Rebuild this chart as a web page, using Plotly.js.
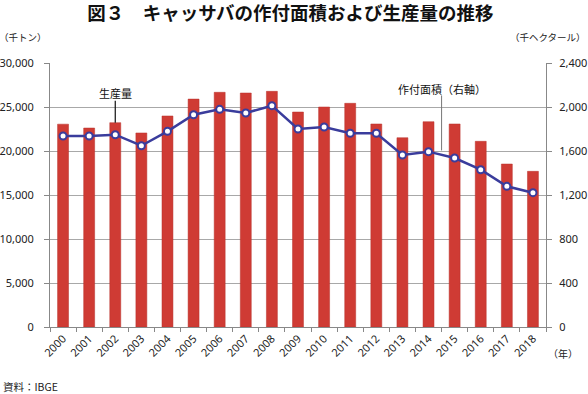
<!DOCTYPE html>
<html><head><meta charset="utf-8">
<script src="https://cdn.plot.ly/plotly-3.0.1.min.js"></script>
<style>html,body{margin:0;padding:0;background:#fff}#chart{width:588px;height:394px}</style>
</head><body><div id="chart"></div>
<script>
const years = ['2000','2001','2002','2003','2004','2005','2006','2007','2008','2009','2010','2011','2012','2013','2014','2015','2016','2017','2018'];
const production = [23050,22610,23220,22050,23980,25900,26670,26590,26780,24430,25000,25420,23070,21510,23330,23070,21100,18520,17690];
const area = [1736,1736,1748,1648,1779,1930,1979,1945,2012,1800,1818,1761,1761,1564,1594,1536,1430,1279,1221];
const leftTicks = [0,5000,10000,15000,20000,25000,30000];
const rightTicks = [0,400,800,1200,1600,2000,2400];

const font = 'Noto Sans, Noto Sans CJK JP, sans-serif';
const jp = 'Noto Sans CJK JP, sans-serif';

const traces = [
  {type:'bar', x:years, y:production, name:'生産量',
   marker:{color:'#CF3B34', line:{color:'#B8322C', width:0.5}}, hoverinfo:'skip'},
  {type:'scatter', mode:'lines+markers', x:years, y:area, yaxis:'y2', name:'作付面積',
   line:{color:'#3A3C9C', width:2.5},
   marker:{size:7, color:'#ffffff', line:{color:'#3A3C9C', width:2}}, hoverinfo:'skip'}
];

const layout = {
  width:588, height:394,
  margin:{l:50, r:42, t:63, b:67},
  paper_bgcolor:'#fff', plot_bgcolor:'#fff',
  showlegend:false,
  bargap:0.58,
  font:{family:font, size:11, color:'#222'},
  title:{text:'<b>図３　キャッサバの作付面積および生産量の推移</b>', x:0.494, xanchor:'center', y:0.965, yanchor:'middle',
         font:{family:jp, size:18.5, color:'#111'}},
  xaxis:{type:'category', range:[-0.5, 18.5], tickson:'boundaries', ticks:'outside', ticklen:4, tickcolor:'#888',
         showline:true, linecolor:'#888', linewidth:1, tickangle:-45, showgrid:false,
         tickfont:{family:font, size:11, color:'#222'}},
  yaxis:{range:[0,30000], tickvals:leftTicks, tickformat:',', ticks:'outside', ticklen:5, tickcolor:'#888',
         showline:true, linecolor:'#888', linewidth:1, gridcolor:'#A8A8A8', gridwidth:1, zeroline:false,
         ticklabelstandoff:8, tickfont:{family:font, size:11, color:'#222'}},
  yaxis2:{range:[0,2400], tickvals:rightTicks, tickformat:',', overlaying:'y', side:'right',
          ticks:'outside', ticklen:5, tickcolor:'#888', showline:true, linecolor:'#888', linewidth:1,
          showgrid:false, zeroline:false, ticklabelstandoff:5, tickfont:{family:font, size:11, color:'#222'}},
  shapes:[
    {type:'line', xref:'x', yref:'y', x0:2, x1:2, y0:production[2], y1:25700, line:{color:'#111', width:1.2}},
    {type:'line', xref:'x', yref:'y2', x0:14.5, x1:14.5, y0:1605, y1:2105, line:{color:'#777', width:1}}
  ],
  annotations:[
    {text:'生産量', xref:'x', yref:'y', x:2, y:26600, showarrow:false, xanchor:'center', yanchor:'middle',
     font:{family:jp, size:11, color:'#111'}},
    {text:'作付面積（右軸）', xref:'x', yref:'y2', x:14.5, y:2165, showarrow:false, xanchor:'center', yanchor:'middle',
     font:{family:jp, size:11, color:'#111'}},
    {text:'（千トン）', xref:'paper', yref:'paper', x:-0.106, xanchor:'left', y:1.1, yanchor:'middle', showarrow:false,
     font:{family:jp, size:9.5, color:'#222'}},
    {text:'（千ヘクタール）', xref:'paper', yref:'paper', x:1.085, xanchor:'right', y:1.1, yanchor:'middle', showarrow:false,
     font:{family:jp, size:9.5, color:'#222'}},
    {text:'（年）', xref:'paper', yref:'paper', x:1.0, xanchor:'left', y:-0.1, yanchor:'middle', showarrow:false,
     font:{family:jp, size:10, color:'#222'}},
    {text:'資料：IBGE', xref:'paper', yref:'paper', x:-0.098, xanchor:'left', y:-0.225, yanchor:'middle', showarrow:false,
     font:{family:jp, size:10.5, color:'#222'}}
  ]
};
Plotly.newPlot('chart', traces, layout, {displayModeBar:false, staticPlot:true});
</script></body></html>
